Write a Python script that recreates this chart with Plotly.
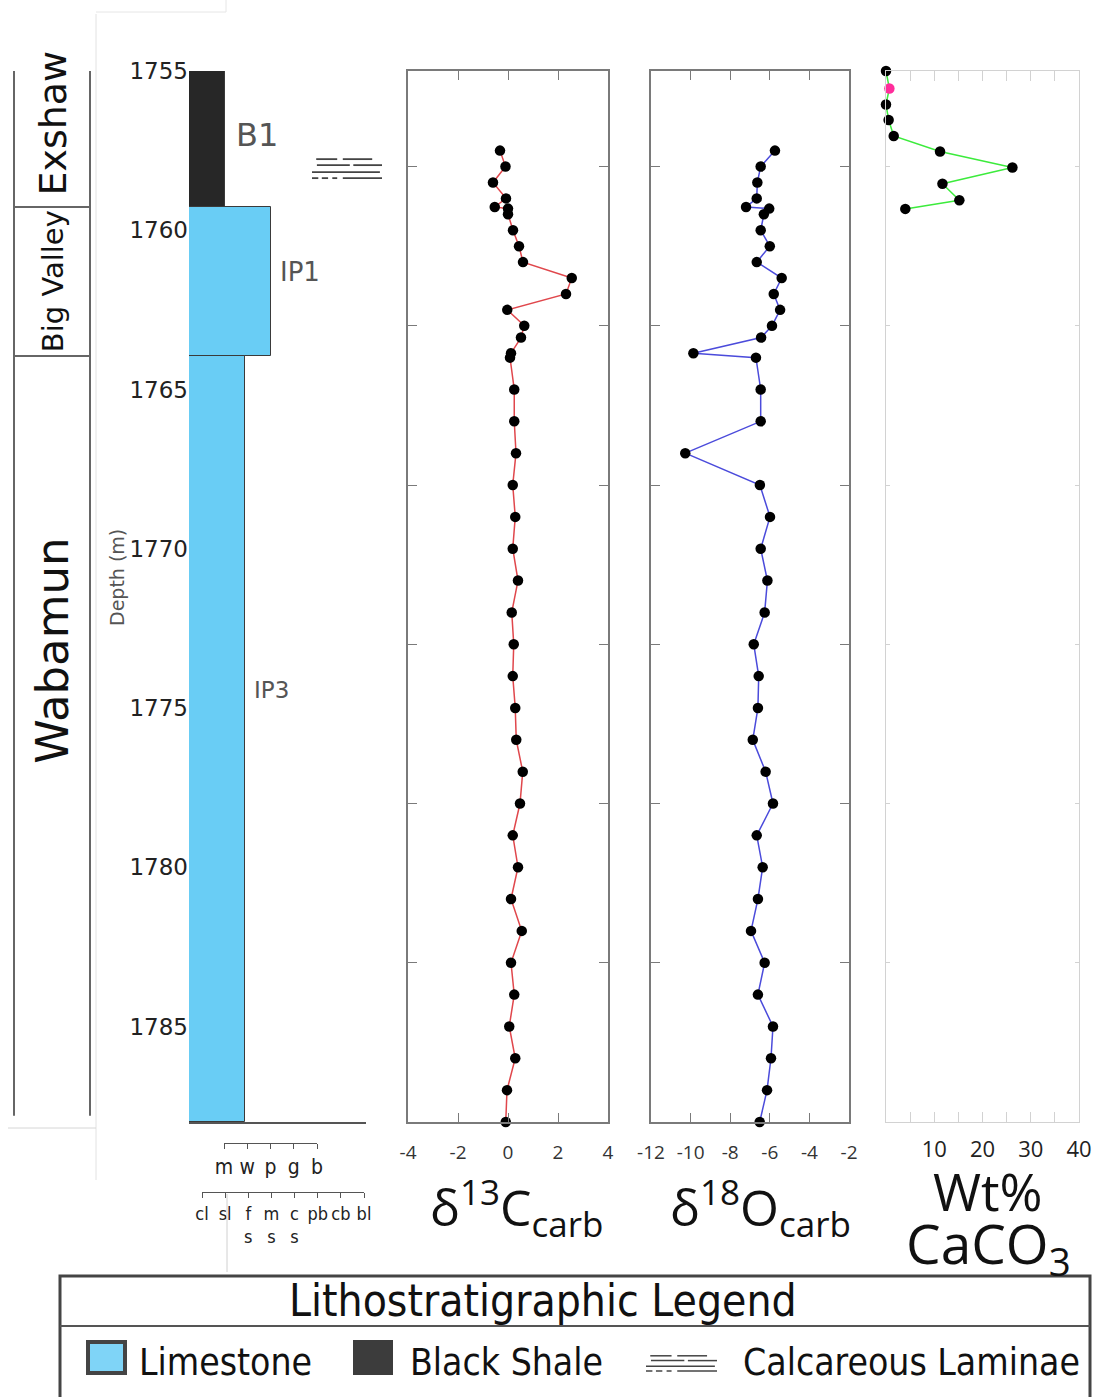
import plotly.graph_objects as go

W, H = 1093, 1397

# ------------------------------------------------------------------ data
sample_depth = [1757.5, 1758.0, 1758.5, 1759.0, 1759.27, 1759.32, 1759.5, 1760.0, 1760.5,
                1761.0, 1761.5, 1762.0, 1762.5, 1763.0, 1763.37, 1763.86, 1764.0,
                1765, 1766, 1767, 1768, 1769, 1770, 1771, 1772, 1773, 1774, 1775, 1776,
                1777, 1778, 1779, 1780, 1781, 1782, 1783, 1784, 1785, 1786, 1787, 1788]
d13c = [-0.32, -0.10, -0.60, -0.08, -0.53, 0.00, 0.00, 0.20, 0.44, 0.60, 2.55, 2.32, -0.03,
        0.65, 0.52, 0.12, 0.08,
        0.25, 0.25, 0.32, 0.19, 0.29, 0.19, 0.40, 0.15, 0.23, 0.19, 0.29, 0.33, 0.59, 0.48,
        0.19, 0.40, 0.12, 0.55, 0.12, 0.25, 0.05, 0.29, -0.04, -0.09]
d18o = [-5.74, -6.46, -6.63, -6.66, -7.20, -6.03, -6.30, -6.46, -6.00, -6.66, -5.40, -5.80,
        -5.48, -5.89, -6.44, -9.86, -6.70,
        -6.46, -6.46, -10.27, -6.50, -5.99, -6.46, -6.12, -6.26, -6.81, -6.56, -6.60, -6.86,
        -6.21, -5.84, -6.66, -6.36, -6.60, -6.95, -6.26, -6.60, -5.84, -5.94, -6.14, -6.51]

wt_depth = [1755.0, 1755.55, 1756.05, 1756.54, 1757.04, 1757.53, 1758.03, 1758.54, 1759.06, 1759.33]
wt_caco3 = [0.0, 0.7, 0.0, 0.55, 1.6, 11.2, 26.2, 11.7, 15.2, 4.0]
wt_flagged = [False, True, False, False, False, False, False, False, False, False]

litho_unit = ["B1", "IP1", "IP3"]
litho_type = ["Black Shale", "Limestone", "Limestone"]
litho_top = [1755.0, 1759.27, 1763.95]
litho_base = [1759.27, 1763.95, 1788.0]
litho_texture = [1.55, 3.5, 2.4]   # texture scale units (m, p, w)

formation_name = ["Exshaw", "Big Valley", "Wabamun"]
formation_top = [1755.0, 1759.27, 1763.95]
formation_base = [1759.27, 1763.95, 1787.8]

laminae_depth = 1758.05

depth_ticks = [1755, 1760, 1765, 1770, 1775, 1780, 1785]
panel_ticks = [1758, 1763, 1768, 1773, 1778, 1783]
d13c_ticks = [-4, -2, 0, 2, 4]
d13c_ticktext = ["-4", "-2", "0", "2", "4"]
d18o_ticks = [-12, -10, -8, -6, -4, -2]
d18o_ticktext = ["-12", "-10", "-8", "-6", "-4", "-2"]
wt_ticks = [0, 5, 10, 15, 20, 25, 30, 35, 40]
wt_ticktext = ["", "", "10", "", "20", "", "30", "", "40"]
texture_labels = ["m", "w", "p", "g", "b"]
grain_labels = ["cl", "sl", "f<br>s", "m<br>s", "c<br>s", "pb", "cb", "bl"]

# ------------------------------------------------------------------ layout helpers
DEPTH_RANGE = [1788.0, 1755.0]
TOP_PX, BOT_PX = 71, 1122


def px(x):
    return x / W


def py(y):
    return 1 - y / H


def depth_px(d):
    return TOP_PX + (d - DEPTH_RANGE[1]) / (DEPTH_RANGE[0] - DEPTH_RANGE[1]) * (BOT_PX - TOP_PX)


YDOM = [py(BOT_PX), py(TOP_PX)]
DJ = "DejaVu Sans"
DJC = "DejaVu Sans Condensed, DejaVu Sans"
OS = "Open Sans"

LIME = "#69CDF5"
SHALE = "#272727"
color_of = {"Limestone": LIME, "Black Shale": SHALE}

fig = go.Figure()

# lithology column (bars)
fig.add_trace(go.Bar(
    orientation="h",
    y=[(t + b) / 2 for t, b in zip(litho_top, litho_base)],
    x=litho_texture,
    width=[b - t for t, b in zip(litho_top, litho_base)],
    base=0,
    marker=dict(color=[color_of[t] for t in litho_type], line=dict(color="#3a3a3a", width=1)),
    xaxis="x", yaxis="y", hoverinfo="skip", showlegend=False))

mk = dict(color="black", size=10.5)
fig.add_trace(go.Scatter(x=d13c, y=sample_depth, mode="lines+markers",
                         line=dict(color="#E0474C", width=1.5), marker=mk,
                         xaxis="x2", yaxis="y2", cliponaxis=False, showlegend=False))
fig.add_trace(go.Scatter(x=d18o, y=sample_depth, mode="lines+markers",
                         line=dict(color="#4B4BDB", width=1.5), marker=mk,
                         xaxis="x3", yaxis="y3", cliponaxis=False, showlegend=False))
fig.add_trace(go.Scatter(x=wt_caco3, y=wt_depth, mode="lines+markers",
                         line=dict(color="#3CEB3C", width=1.5),
                         marker=dict(size=10.5, color=["#FF2D9B" if f else "black" for f in wt_flagged]),
                         xaxis="x4", yaxis="y4", cliponaxis=False, showlegend=False))
# dummy traces for the texture / grain-size scales
fig.add_trace(go.Scatter(x=[None], y=[None], xaxis="x5", yaxis="y6", showlegend=False))
fig.add_trace(go.Scatter(x=[None], y=[None], xaxis="x6", yaxis="y6", showlegend=False))

panel_y = dict(range=DEPTH_RANGE, domain=YDOM, tickvals=panel_ticks, ticks="inside",
               ticklen=9, mirror="ticks", showticklabels=False, showgrid=False,
               zeroline=False, showline=True, linewidth=1.5, linecolor="#7a7a7a",
               tickcolor="#7a7a7a", automargin=False)
panel_x = dict(ticks="inside", ticklen=9, mirror="ticks", showgrid=False, zeroline=False,
               showline=True, linewidth=1.5, linecolor="#7a7a7a", tickcolor="#7a7a7a",
               tickfont=dict(family=OS, size=19, color="#333"), ticklabelstandoff=12,
               tickangle=0, automargin=False)

fig.update_layout(
    template="none",
    width=W, height=H, autosize=False,
    margin=dict(l=0, r=0, t=0, b=0, pad=0),
    paper_bgcolor="white", plot_bgcolor="rgba(0,0,0,0)",
    bargap=0, showlegend=False,
    xaxis=dict(domain=[px(189), px(366)], range=[0, 7.6], showticklabels=False, ticks="",
               showgrid=False, zeroline=False, showline=True, linecolor="#555", linewidth=1.5,
               anchor="y", automargin=False),
    yaxis=dict(domain=YDOM, range=DEPTH_RANGE, tickvals=depth_ticks, ticks="",
               showgrid=False, zeroline=False, showline=False, automargin=False,
               tickfont=dict(family=DJ, size=23, color="#222"), anchor="x", ticklabelstandoff=0),
    xaxis2=dict(domain=[px(408), px(608)], range=[-4, 4], tickvals=d13c_ticks,
                ticktext=d13c_ticktext, anchor="y2", **panel_x),
    yaxis2=dict(anchor="x2", **panel_y),
    xaxis3=dict(domain=[px(651), px(849)], range=[-12, -2], tickvals=d18o_ticks,
                ticktext=d18o_ticktext, anchor="y3", **panel_x),
    yaxis3=dict(anchor="x3", **panel_y),
    xaxis4=dict(domain=[px(886), px(1079)], range=[0, 40], tickvals=wt_ticks, ticktext=wt_ticktext,
                ticks="inside", ticklen=10, mirror="ticks", showgrid=False, zeroline=False,
                showline=True, linewidth=1.2, linecolor="#d2d2d2", tickcolor="#d2d2d2",
                tickfont=dict(family=OS, size=22, color="#222"), ticklabelstandoff=7,
                tickangle=0, anchor="y4", automargin=False),
    yaxis4=dict(anchor="x4", range=DEPTH_RANGE, domain=YDOM, tickvals=panel_ticks, ticks="inside",
                ticklen=4, mirror="ticks", showticklabels=False, showgrid=False, zeroline=False,
                showline=True, linewidth=1.2, linecolor="#d2d2d2", tickcolor="#d2d2d2",
                automargin=False),
    xaxis5=dict(domain=[px(224), px(317)], range=[0, 4], tickvals=list(range(len(texture_labels))),
                ticktext=texture_labels, anchor="free", position=py(1143), ticks="outside",
                ticklen=5, showline=True, linecolor="#555", linewidth=1.2, tickcolor="#555",
                showgrid=False, zeroline=False, tickangle=0, automargin=False,
                tickfont=dict(family=DJC, size=21, color="#222")),
    xaxis6=dict(domain=[px(202), px(364)], range=[0, 7], tickvals=list(range(len(grain_labels))),
                ticktext=grain_labels, anchor="free", position=py(1192), ticks="outside",
                ticklen=5, showline=True, linecolor="#555", linewidth=1.2, tickcolor="#555",
                showgrid=False, zeroline=False, tickangle=0, automargin=False,
                tickfont=dict(family=DJC, size=18, color="#222")),
    yaxis6=dict(domain=[0, 0.001], visible=False, anchor="x5", automargin=False),
)

shapes = []
ann = []


def text(t, x, y, size, family, color="#111", xref="paper", yref="paper", angle=0,
         xanchor="center", yanchor="middle"):
    ann.append(dict(text=t, x=x, y=y, xref=xref, yref=yref, showarrow=False, textangle=angle,
                    xanchor=xanchor, yanchor=yanchor,
                    font=dict(family=family, size=size, color=color)))


def hline(x0, x1, y, color, width, dash="solid"):
    shapes.append(dict(type="line", xref="paper", yref="paper", x0=px(x0), x1=px(x1),
                       y0=py(y), y1=py(y), line=dict(color=color, width=width, dash=dash)))


def vline(x, y0, y1, color, width, dash="solid"):
    shapes.append(dict(type="line", xref="paper", yref="paper", x0=px(x), x1=px(x),
                       y0=py(y0), y1=py(y1), line=dict(color=color, width=width, dash=dash)))


# faint frame remnants
vline(96, 14, 1180, "#e2e2e2", 1)
hline(96, 226, 12, "#e6e6e6", 1)
vline(226, 0, 12, "#e6e6e6", 1)
hline(8, 96, 1128, "#d6d6d6", 1)
vline(227, 1194, 1272, "#d0d0d0", 1)

# formation column
col_top = depth_px(formation_top[0])
col_bot = depth_px(formation_base[-1])
vline(14, col_top, col_bot, "#666", 2)
vline(90, col_top, col_bot, "#666", 2)
for b in formation_base[:-1]:
    hline(14, 90, depth_px(b), "#666", 2)

form_label_depth = [1756.65, 1761.6, 1773.2]
form_font = [38, 29, 45]
for name, d, fs in zip(formation_name, form_label_depth, form_font):
    text(name, px(53), d, fs, DJ, yref="y", angle=-90)

# unit labels
unit_pos = {"B1": (2.9, 1757.0, 32), "IP1": (4.78, 1761.3, 26), "IP3": (3.55, 1774.45, 23)}
for u in litho_unit:
    xx, yy, fs = unit_pos[u]
    text(u, xx, yy, fs, DJ, color="#555", xref="x", yref="y")

text("Depth (m)", px(117), py(578), 19, DJ, color="#555", angle=-90)


# calcareous laminae symbol
LAM_ROWS = [(0.05, [(0.06, 0.36), (0.44, 0.86)]),
            (0.35, [(0.07, 0.54), (0.59, 1.0)]),
            (0.70, [(0.0, 0.97)]),
            (1.00, [(0.0, 0.09), (0.14, 0.23), (0.29, 0.36), (0.44, 1.0)])]


def laminae(x0, y0, w, h, width=1.5, color="#555"):
    for ry, segs in LAM_ROWS:
        for a, b in segs:
            hline(x0 + a * w, x0 + b * w, y0 + ry * h, color, width)


lam_y = depth_px(laminae_depth)
laminae(312, lam_y - 10, 70, 20, 1.8, "#444")

# axis titles
text("δ<sup>13</sup>C<sub>carb</sub>", px(516), py(1207), 50, OS)
text("δ<sup>18</sup>O<sub>carb</sub>", px(760), py(1207), 50, OS)
text("Wt%", px(988), py(1190), 52, OS)
text("CaCO<sub>3</sub>", px(988), py(1246), 55, OS)

# legend box
shapes.append(dict(type="rect", xref="paper", yref="paper", x0=px(60), x1=px(1090),
                   y0=py(1276), y1=py(1402), line=dict(color="#444", width=3)))
hline(60, 1090, 1326, "#555", 2)
text("Lithostratigraphic Legend", px(543), py(1300), 44, DJC)
shapes.append(dict(type="rect", xref="paper", yref="paper", x0=px(88), x1=px(125),
                   y0=py(1373), y1=py(1342), fillcolor="#7FD4F7", line=dict(color="#444", width=4)))
shapes.append(dict(type="rect", xref="paper", yref="paper", x0=px(354), x1=px(392),
                   y0=py(1374), y1=py(1341), fillcolor="#3C3C3C", line=dict(color="#3C3C3C", width=2)))
laminae(646, 1355, 71, 16, 1.5, "#444")
for txt, xl in [("Limestone", 137), ("Black Shale", 408), ("Calcareous Laminae", 741)]:
    text(txt, px(xl), py(1362), 37, DJC, xanchor="left")

fig.update_layout(shapes=shapes, annotations=ann)
fig.write_html("out.html")
